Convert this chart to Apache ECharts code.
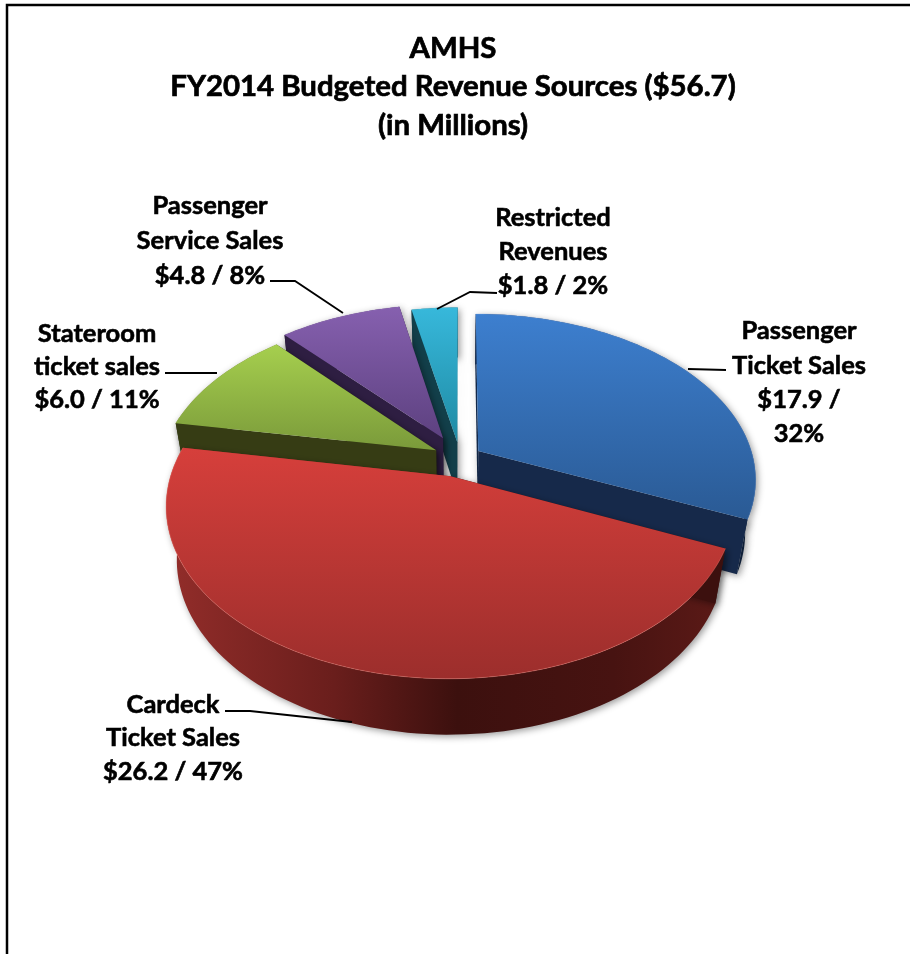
<!DOCTYPE html>
<html><head><meta charset="utf-8">
<style>html,body{margin:0;padding:0;background:#fff}#c{width:910px;height:954px}</style>
<script src="https://cdn.jsdelivr.net/npm/echarts@6/dist/echarts.min.js"></script>
</head><body><div id="c"></div>
<script>
// ---- data ----
const titleLines = ['AMHS', 'FY2014 Budgeted Revenue Sources ($56.7)', '(in Millions)'];
const categories = ['Passenger\nTicket Sales', 'Cardeck\nTicket Sales', 'Stateroom\nticket sales', 'Passenger\nService Sales', 'Restricted\nRevenues'];
const values = [17.9, 26.2, 6.0, 4.8, 1.8];
const percents = [32, 47, 11, 8, 2];
const valueSeparators = [' /\n', ' / ', ' / ', ' / ', ' / '];

// ---- style / layout only ----
const explode = [0.08, 0.115, 0.10, 0.14, 0.10];
const topColors = [['#3d7fcf','#2a5a94'],['#d63f3b','#9c2e2c'],['#a6cf4e','#7a9a3a'],['#8660af','#5d4180'],['#37b8db','#1f8aa3']];
const wallColors = [['#16294a','#13294a'],['#8f2c29','#3c100e'],['#363c14','#363c14'],['#2e1e42','#2e1e42'],['#14505e','#123f4a']];
const rimColors = ['rgba(120,170,235,.3)','rgba(240,120,110,.4)','rgba(200,230,120,.3)','rgba(170,130,210,.3)','rgba(120,220,240,.3)'];
const labelBoxes = [[799,314],[173,688],[97,317],[210,188],[553,201]];
const labelLineHeights = [34.2,33.5,33,35,34];
const leaderLines = [
  [[726,370],[688,369]],
  [[225,711],[250,711],[352,722]],
  [[165,373],[217,373]],
  [[270,281],[295,281],[343,313]],
  [[497,293],[470,292],[437,309]]
];
const paintOrder = [4,3,2,0,1];
const G = {cx:460, cy:458, R:275, ry:162, k:0.167, m:0.036, depth:55.5};

const chart = echarts.init(document.getElementById('c'), null, {renderer:'canvas'});
const total = values.reduce((a,b)=>a+b,0);
let acc = 0;
const angles = values.map(v=>{const s=acc/total*2*Math.PI; acc+=v; return [s, acc/total*2*Math.PI];});

function proj(x,y,low){
  const p = 1/(1 - G.k*y + (low?G.m:0));
  return [G.cx + G.R*x*p, G.cy + G.ry*y*p + (low?G.depth*p:0)];
}
function renderItem(params, api){
  const i = api.value(0), a0 = angles[i][0], a1 = angles[i][1];
  const mid=(a0+a1)/2, ox=explode[i]*Math.sin(mid), oy=-explode[i]*Math.cos(mid);
  const rim=[], rimLow=[];
  const n=Math.max(8,Math.round((a1-a0)/0.03));
  for(let j=0;j<=n;j++){
    const a=a0+(a1-a0)*j/n, x=ox+Math.sin(a), y=oy-Math.cos(a);
    rim.push(proj(x,y,false)); rimLow.push(proj(x,y,true));
  }
  const apex=proj(ox,oy,false), apexLow=proj(ox,oy,true);
  const top=[apex].concat(rim);
  const wall=rim.concat(rimLow.slice().reverse());
  const lin=(x1,y1,x2,y2,c)=>new echarts.graphic.LinearGradient(x1,y1,x2,y2,c);
  const wc=wallColors[i];
  const wallFill = i===1
    ? lin(0,0,1,0,[{offset:0,color:'#932d2a'},{offset:.3,color:'#6a1e1c'},{offset:.52,color:'#3c100e'},{offset:.8,color:'#471311'},{offset:1,color:'#5c1a17'}])
    : lin(0,0,1,0,[{offset:0,color:wc[0]},{offset:1,color:wc[1]}]);
  const shadow={shadowBlur:7,shadowColor:'rgba(0,0,0,.4)',shadowOffsetX:2,shadowOffsetY:2};
  const poly=(pts,style)=>({type:'polygon',shape:{points:pts},style:style,silent:true});
  const cutStart=poly([apex,rim[0],rimLow[0],apexLow],Object.assign({fill:wc[1]},shadow));
  const cutEnd=poly([apex,rim[n],rimLow[n],apexLow],Object.assign({fill:wc[0]},shadow));
  // the cut face nearer the viewer is painted last
  const cuts = rim[0][1] > rim[n][1] ? [cutEnd,cutStart] : [cutStart,cutEnd];
  return {type:'group',children:[
    poly(wall,Object.assign({fill:wallFill},shadow)),
    cuts[0], cuts[1],
    poly(top,{fill:lin(0,0,0,1,[{offset:0,color:topColors[i][0]},{offset:1,color:topColors[i][1]}])}),
    {type:'polyline',shape:{points:rim},style:{fill:null,stroke:rimColors[i],lineWidth:1},silent:true}
  ]};
}

const labelFont='bold 25.5px Lato, Carlito, sans-serif';
const graphics=[
  {type:'polyline',shape:{points:[[7,954],[7,5],[910,5]]},style:{fill:null,stroke:'#000',lineWidth:2.5},silent:true}
];
categories.forEach((c,i)=>{
  graphics.push({type:'polyline',shape:{points:leaderLines[i]},style:{fill:null,stroke:'#000',lineWidth:1.8},silent:true,z:20});
  graphics.push({type:'text',x:labelBoxes[i][0],y:labelBoxes[i][1],z:20,silent:true,style:{
    text:c+'\n$'+values[i].toFixed(1)+valueSeparators[i]+percents[i]+'%',
    font:labelFont,fill:'#000',stroke:'#000',lineWidth:0.6,align:'center',verticalAlign:'top',lineHeight:labelLineHeights[i]}});
});

chart.setOption({
  animation:false,
  backgroundColor:'#fff',
  title:{text:titleLines.join('\n'),left:448,top:24,textAlign:'center',
    textStyle:{fontFamily:'Lato, Carlito, sans-serif',fontWeight:'bold',fontSize:29.4,lineHeight:38.5,color:'#000',textBorderColor:'#000',textBorderWidth:0.7}},
  series:[{type:'custom',coordinateSystem:'none',silent:true,renderItem:renderItem,
    data:paintOrder.map(i=>[i,values[i]])}],
  graphic:graphics
});
</script></body></html>
